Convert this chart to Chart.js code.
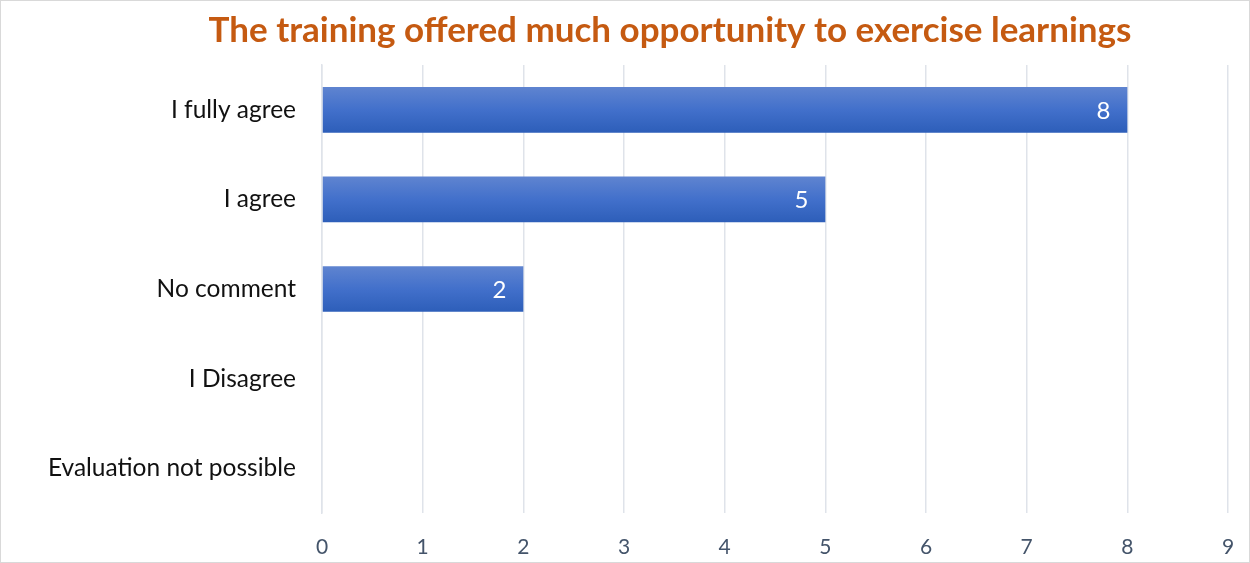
<!DOCTYPE html>
<html>
<head>
<meta charset="utf-8">
<script src="https://cdn.jsdelivr.net/npm/chart.js@4/dist/chart.umd.min.js"></script>
<style>
  body { margin: 0; background: #fff; }
  #wrap { width: 1250px; height: 563px; position: relative; }
</style>
</head>
<body>
<div id="wrap"><canvas id="horizontal-bar" width="1250" height="563"></canvas></div>
<script>
var chartTitle = 'The training offered much opportunity to exercise learnings';
var categories = ['I fully agree', 'I agree', 'No comment', 'I Disagree', 'Evaluation not possible'];
var responses = [8, 5, 2, 0, 0];
var axisMin = 0;
var axisMax = 9;

// gradient fill per bar, drawn one by one so shared options don't clash
var gradientBars = {
  id: 'gradientBars',
  beforeDatasetDraw: function(chart, args) {
    var ctx = chart.ctx;
    var meta = args.meta;
    ctx.save();
    ctx.beginPath();
    ctx.rect(chart.chartArea.left, chart.chartArea.top, chart.chartArea.right - chart.chartArea.left, chart.chartArea.bottom - chart.chartArea.top);
    ctx.clip();
    meta.data.forEach(function(el, i) {
      if (!responses[i]) return;
      var top = el.y - el.height / 2;
      var g = ctx.createLinearGradient(0, top, 0, top + el.height);
      g.addColorStop(0, '#5f84d0');
      g.addColorStop(0.5, '#4270cb');
      g.addColorStop(1, '#2d5eb9');
      el.options.backgroundColor = g;
      el.draw(ctx);
    });
    ctx.restore();
    return false;
  }
};

var extras = {
  id: 'extras',
  afterDatasetsDraw: function(chart) {
    var ctx = chart.ctx;
    var meta = chart.getDatasetMeta(0);
    ctx.save();
    ctx.fillStyle = '#ffffff';
    ctx.font = '24px Lato';
    ctx.textAlign = 'right';
    ctx.textBaseline = 'middle';
    meta.data.forEach(function(el, i) {
      if (!responses[i]) return;
      ctx.fillText(String(responses[i]), el.x - 17, el.y + 1);
    });
    ctx.restore();
  },
  afterDraw: function(chart) {
    var ctx = chart.ctx;
    ctx.save();
    ctx.fillStyle = '#c55a11';
    ctx.font = 'bold 35px Lato';
    ctx.textAlign = 'center';
    ctx.textBaseline = 'middle';
    ctx.fillText(chartTitle, 670, 31);
    ctx.strokeStyle = '#d9d9d9';
    ctx.lineWidth = 1;
    ctx.strokeRect(0.5, 0.5, chart.width - 1, chart.height - 1);
    ctx.restore();
  }
};

var ctx = document.getElementById('horizontal-bar').getContext('2d');
var hbc = new Chart(ctx, {
  type: 'bar',
  data: {
    labels: categories,
    datasets: [{
      label: 'Responses',
      data: responses,
      backgroundColor: '#4472c4',
      borderWidth: 0,
      barPercentage: 0.51,
      categoryPercentage: 1
    }]
  },
  options: {
    indexAxis: 'y',
    responsive: false,
    animation: false,
    layout: { padding: { top: 65, right: 22, bottom: 0, left: 0 } },
    plugins: {
      legend: { display: false },
      title: { display: false },
      tooltip: { enabled: false }
    },
    scales: {
      x: {
        min: axisMin,
        max: axisMax,
        grid: { color: '#dfe3ea', lineWidth: 1.5, drawTicks: false },
        border: { display: false },
        ticks: {
          stepSize: 1,
          color: '#44546a',
          padding: 22,
          font: { family: 'Lato', size: 21 }
        },
        afterFit: function(scale) {
          scale.height = 50;
          scale.paddingRight = 6;
        }
      },
      y: {
        grid: { display: false },
        border: { color: '#dfe3ea', width: 1.5 },
        ticks: {
          color: '#111111',
          padding: 18,
          font: { family: 'Lato', size: 24.5 }
        },
        afterFit: function(scale) { scale.width = 322; }
      }
    }
  },
  plugins: [gradientBars, extras]
});
</script>
</body>
</html>
